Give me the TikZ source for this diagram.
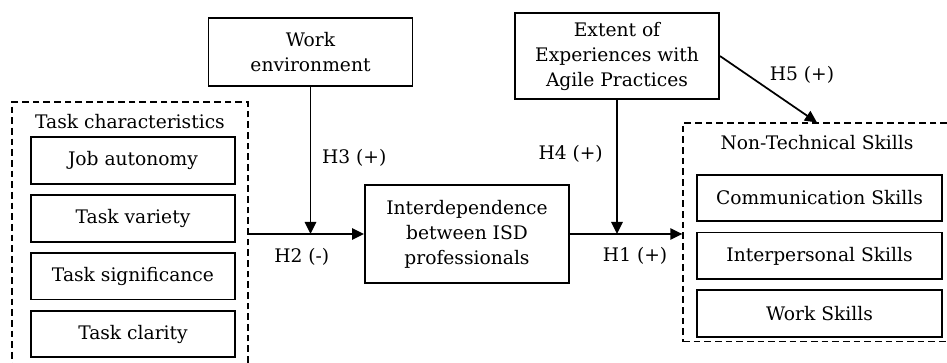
\documentclass[tikz,border=0pt]{standalone}
\usepackage{fontspec}
\setmainfont{DejaVu Serif}
\usetikzlibrary{arrows.meta,positioning}
\tikzset{
    bloco/.style={
        rectangle,
        draw,
        line width=1.4pt,
        align=center,
        inner sep=2pt
    },
    construto/.style={bloco, minimum width=153pt},
    item/.style={bloco, minimum height=35pt},
    grupo/.style={rectangle, draw, line width=1pt, dash pattern=on 5pt off 3pt},
    fluxo/.style={-{Triangle[length=9pt,width=8.5pt]}, line width=1.3pt},
    hipotese/.style={inner sep=1pt}
}

\begin{document}
\begin{tikzpicture}[
        x=0.75pt, y=-0.75pt,
        node distance=7pt,
        every node/.style={font=\fontsize{14}{18.75}\selectfont}
    ]
        \useasboundingbox (0,0) rectangle (947,363);
        \clip (0,0) rectangle (947,363);

        % caracteristicas da tarefa
        \node[grupo, minimum width=177pt, minimum height=202.5pt] (tarefa) at (130,237) {};
        \node (tarefaTit) at (130,122) {Task characteristics};
        \node[item, minimum width=153pt] (autonomia) at (133,160.5) {Job autonomy};
        \node[item, minimum width=153pt, below=of autonomia] (variedade) {Task variety};
        \node[item, minimum width=153pt, below=of variedade] (significado) {Task significance};
        \node[item, minimum width=153pt, below=of significado] (clareza) {Task clarity};

        % construtos
        \node[construto, minimum height=51pt] (ambiente) at (310.5,52) {Work\\environment};
        \node[construto, minimum height=64.5pt] (agil) at (617,56) {Extent of\\Experiences with\\Agile Practices};
        \node[construto, minimum height=73.5pt] (inter) at (467,234) {Interdependence\\between ISD\\professionals};

        % habilidades nao tecnicas
        \node[grupo, minimum width=201pt, minimum height=164pt] (habilidades) at (817,232.5) {};
        \node (habilidadesTit) at (817,143) {Non-Technical Skills};
        \node[item, minimum width=184pt] (comunicacao) at (819.5,198) {Communication Skills};
        \node[item, minimum width=184pt, below=of comunicacao] (interpessoal) {Interpersonal Skills};
        \node[item, minimum width=184pt, below=of interpessoal] (trabalho) {Work Skills};

        \coordinate (juncaoA) at (ambiente.south |- inter.west);
        \coordinate (juncaoB) at (agil.south |- inter.east);

        \draw[fluxo] (tarefa.east |- inter.west) -- node[hipotese, pos=0.46, below=9pt] {H2 (-)} (inter.west);
        \draw[fluxo] (ambiente.south) -- node[hipotese, pos=0.48, right=7pt] {H3 (+)} (juncaoA);
        \draw[fluxo] (inter.east) -- node[hipotese, pos=0.58, below=8pt] {H1 (+)} (inter.east -| habilidades.west);
        \draw[fluxo] (agil.south) -- node[hipotese, pos=0.4, left=9pt] {H4 (+)} (juncaoB);
        \draw[fluxo] (agil.east) -- node[hipotese, pos=0.45, anchor=south west, xshift=3pt] {H5 (+)} (habilidades.north);
    \end{tikzpicture}
\end{document}
